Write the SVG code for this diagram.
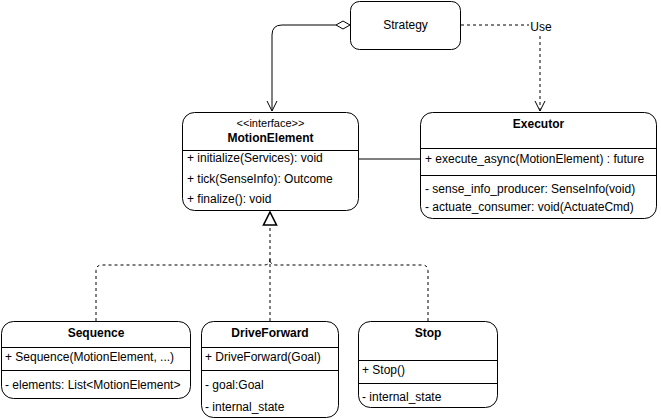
<svg xmlns="http://www.w3.org/2000/svg" width="661" height="419" viewBox="0 0 661 419">
<style>
.box{fill:#fff;stroke:#000;stroke-width:1}
.sep{stroke:#000;stroke-width:1}
.t{font-family:"Liberation Sans",Arial,sans-serif;font-size:12px;fill:#000}
.b{font-weight:bold;text-anchor:middle}
.c{text-anchor:middle}
.ln{fill:none;stroke:#000;stroke-width:1}
.dash{stroke-dasharray:3 3}
</style>
<defs>
<marker id="open" viewBox="0 0 12 12" refX="11" refY="6" markerWidth="12" markerHeight="12" markerUnits="userSpaceOnUse" orient="auto">
<path d="M1,1 L11,6 L1,11" fill="none" stroke="#000" stroke-width="1"/>
</marker>
</defs>
<rect width="661" height="419" fill="#fff"/>
<g id="connectors">
<path class="ln" d="M336,25 L282,25 Q272,25 272,35 L272,111" marker-end="url(#open)"/>
<path d="M336,25 L343,21 L350,25 L343,29 Z" fill="#fff" stroke="#000" stroke-width="1"/>
<path class="ln dash" d="M461,25 L540,25 L540,111" marker-end="url(#open)"/>
<rect x="529" y="19" width="24" height="14" fill="#fff"/>
<text class="t c" x="541" y="31">Use</text>
<path class="ln" d="M358,159 L420,159"/>
<path class="ln dash" d="M270,321 L270,226"/>
<path class="ln dash" d="M96,321 L96,271 Q96,265 102,265 L264,265 Q270,265 270,259"/>
<path class="ln dash" d="M428,321 L428,271 Q428,265 422,265 L276,265 Q270,265 270,259"/>
<path d="M270,212 L276.5,225 L263.5,225 Z" fill="#fff" stroke="#000" stroke-width="1.6"/>
</g>
<g id="strategy">
<rect class="box" x="350.5" y="1.5" width="110" height="48" rx="9"/>
<text class="t c" x="405.5" y="29">Strategy</text>
</g>
<g id="motionelement">
<rect class="box" x="182.5" y="112.5" width="176" height="98" rx="12"/>
<text class="t c" x="270.5" y="127" style="font-size:11px">&lt;&lt;interface&gt;&gt;</text>
<text class="t b" x="270.5" y="142">MotionElement</text>
<line class="sep" x1="182.5" y1="150.5" x2="358.5" y2="150.5"/>
<text class="t" x="187" y="162">+ initialize(Services): void</text>
<text class="t" x="187" y="183">+ tick(SenseInfo): Outcome</text>
<text class="t" x="187" y="203">+ finalize(): void</text>
</g>
<g id="executor">
<rect class="box" x="420.5" y="112.5" width="236" height="106" rx="12"/>
<text class="t b" x="538.5" y="128">Executor</text>
<line class="sep" x1="420.5" y1="148.5" x2="656.5" y2="148.5"/>
<text class="t" x="425" y="163">+ execute_async(MotionElement) : future</text>
<line class="sep" x1="420.5" y1="175.5" x2="656.5" y2="175.5"/>
<text class="t" x="425" y="193">- sense_info_producer: SenseInfo(void)</text>
<text class="t" x="425" y="211">- actuate_consumer: void(ActuateCmd)</text>
</g>
<g id="sequence">
<rect class="box" x="1.5" y="321.5" width="189" height="77" rx="12"/>
<text class="t b" x="96" y="337">Sequence</text>
<line class="sep" x1="1.5" y1="347.5" x2="190.5" y2="347.5"/>
<text class="t" x="5" y="361">+ Sequence(MotionElement, ...)</text>
<line class="sep" x1="1.5" y1="370.5" x2="190.5" y2="370.5"/>
<text class="t" x="5" y="389">- elements: List&lt;MotionElement&gt;</text>
</g>
<g id="driveforward">
<rect class="box" x="201.5" y="321.5" width="137" height="96" rx="12"/>
<text class="t b" x="270" y="337">DriveForward</text>
<line class="sep" x1="201.5" y1="347.5" x2="338.5" y2="347.5"/>
<text class="t" x="205" y="361">+ DriveForward(Goal)</text>
<line class="sep" x1="201.5" y1="370.5" x2="338.5" y2="370.5"/>
<text class="t" x="205" y="389">- goal:Goal</text>
<text class="t" x="205" y="411">- internal_state</text>
</g>
<g id="stop">
<rect class="box" x="358.5" y="321.5" width="139" height="86" rx="12"/>
<text class="t b" x="428" y="337">Stop</text>
<line class="sep" x1="358.5" y1="360.5" x2="497.5" y2="360.5"/>
<text class="t" x="362" y="374">+ Stop()</text>
<line class="sep" x1="358.5" y1="383.5" x2="497.5" y2="383.5"/>
<text class="t" x="362" y="401">- internal_state</text>
</g>
</svg>
